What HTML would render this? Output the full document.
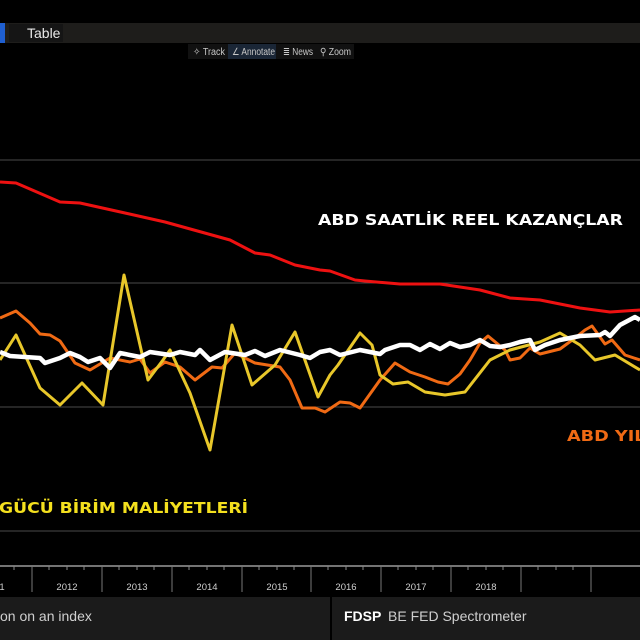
<!DOCTYPE html>
<html><head><meta charset="utf-8"><style>
html,body{margin:0;padding:0;background:#000;width:640px;height:640px;overflow:hidden}
</style></head><body>
<svg width="640" height="640" xmlns="http://www.w3.org/2000/svg" style="display:block;font-family:'Liberation Sans',sans-serif">
<rect width="640" height="640" fill="#000"/>
<rect x="0" y="23" width="640" height="20" fill="#1e1d1b"/>
<rect x="0" y="23" width="5" height="20" fill="#1f5fd0"/>
<rect x="9" y="24" width="54" height="18" fill="#151515"/>
<text x="27" y="38" fill="#e8e8e8" font-size="14">Table</text>
<rect x="188" y="44" width="166" height="15" fill="#111"/>
<rect x="228" y="44" width="48" height="15" fill="#1a2636"/>
<g font-size="10" fill="#c8c8c8">
<text x="193" y="55" textLength="32" lengthAdjust="spacingAndGlyphs">✧ Track</text>
<text x="232" y="55" textLength="43" lengthAdjust="spacingAndGlyphs">∠ Annotate</text>
<text x="283" y="55" textLength="30" lengthAdjust="spacingAndGlyphs">≣ News</text>
<text x="320" y="55" textLength="31" lengthAdjust="spacingAndGlyphs">⚲ Zoom</text>
</g>
<g stroke="#4a4a4a" stroke-width="1">
<line x1="0" y1="160" x2="640" y2="160"/>
<line x1="0" y1="283" x2="640" y2="283"/>
<line x1="0" y1="407" x2="640" y2="407"/>
<line x1="0" y1="531" x2="640" y2="531"/>
</g>
<line x1="0" y1="566" x2="640" y2="566" stroke="#9a9a9a" stroke-width="1.5"/>
<g stroke="#777" stroke-width="1">
<line x1="32" y1="566" x2="32" y2="592"/><line x1="102" y1="566" x2="102" y2="592"/>
<line x1="172" y1="566" x2="172" y2="592"/><line x1="242" y1="566" x2="242" y2="592"/>
<line x1="311" y1="566" x2="311" y2="592"/><line x1="381" y1="566" x2="381" y2="592"/>
<line x1="451" y1="566" x2="451" y2="592"/><line x1="521" y1="566" x2="521" y2="592"/>
<line x1="591" y1="566" x2="591" y2="592"/>
</g>
<g stroke="#888" stroke-width="1">
<line x1="49" y1="566" x2="49" y2="570"/><line x1="67" y1="566" x2="67" y2="570"/><line x1="84" y1="566" x2="84" y2="570"/>
<line x1="119" y1="566" x2="119" y2="570"/><line x1="137" y1="566" x2="137" y2="570"/><line x1="154" y1="566" x2="154" y2="570"/>
<line x1="189" y1="566" x2="189" y2="570"/><line x1="207" y1="566" x2="207" y2="570"/><line x1="224" y1="566" x2="224" y2="570"/>
<line x1="259" y1="566" x2="259" y2="570"/><line x1="277" y1="566" x2="277" y2="570"/><line x1="294" y1="566" x2="294" y2="570"/>
<line x1="328" y1="566" x2="328" y2="570"/><line x1="346" y1="566" x2="346" y2="570"/><line x1="363" y1="566" x2="363" y2="570"/>
<line x1="398" y1="566" x2="398" y2="570"/><line x1="416" y1="566" x2="416" y2="570"/><line x1="433" y1="566" x2="433" y2="570"/>
<line x1="468" y1="566" x2="468" y2="570"/><line x1="486" y1="566" x2="486" y2="570"/><line x1="503" y1="566" x2="503" y2="570"/>
<line x1="538" y1="566" x2="538" y2="570"/><line x1="556" y1="566" x2="556" y2="570"/><line x1="573" y1="566" x2="573" y2="570"/>
<line x1="14" y1="566" x2="14" y2="570"/>
</g>
<g font-size="9.5" fill="#cfcfcf" text-anchor="middle">
<text x="2" y="590">1</text>
<text x="67" y="590">2012</text><text x="137" y="590">2013</text><text x="207" y="590">2014</text>
<text x="277" y="590">2015</text><text x="346" y="590">2016</text><text x="416" y="590">2017</text>
<text x="486" y="590">2018</text>
</g>
<rect x="0" y="597" width="640" height="43" fill="#1b1b1b"/>
<line x1="331" y1="597" x2="331" y2="640" stroke="#000" stroke-width="2"/>
<text x="0" y="621" fill="#d0d0d0" font-size="14">on on an index</text>
<text x="344" y="621" fill="#fff" font-size="14" font-weight="bold">FDSP</text>
<text x="388" y="621" fill="#d0d0d0" font-size="14">BE FED Spectrometer</text>
<g fill="none" stroke-linejoin="round" stroke-width="3">
<polyline stroke="#ee1111" points="0,182 16,183 60,202 80,203 125,213 165,222 230,240 255,253 270,255 295,265 320,270 330,271 355,280 365,281 400,284 440,284 480,290 510,298 540,300 580,308 610,312 640,310"/>
<polyline stroke="#f06a14" points="0,318 16,311 30,323 40,334 50,335 60,341 75,363 90,370 110,358 130,362 140,359 150,373 165,362 180,367 195,380 212,367 222,368 235,353 255,363 280,367 290,380 302,408 315,408 325,412 340,402 350,403 360,408 380,380 395,363 410,372 425,377 438,382 448,384 460,374 470,360 480,343 488,336 505,350 510,360 520,358 530,348 540,354 560,349 575,338 585,330 592,326 605,344 612,340 625,355 640,360"/>
<polyline stroke="#e8c72a" points="0,360 16,335 40,388 60,405 82,383 103,405 124,275 148,380 163,360 170,350 190,393 210,450 232,325 252,385 275,365 295,332 318,397 330,375 338,365 360,333 372,345 380,375 393,384 408,382 425,392 445,395 465,392 490,360 510,350 540,342 560,333 580,345 595,360 615,355 640,370"/>
<polyline stroke="#ffffff" stroke-width="4.5" points="0,352 10,356 40,358 45,363 60,358 70,353 80,357 88,362 100,358 110,368 120,353 140,357 150,352 170,355 180,352 195,355 200,350 210,360 225,352 245,355 255,351 265,356 280,350 300,355 310,358 320,352 330,350 340,355 360,350 380,354 385,350 400,345 410,345 420,350 430,344 440,349 450,343 460,347 470,345 480,340 490,346 500,347 510,345 520,342 530,340 535,350 545,345 560,340 580,336 600,335 605,332 610,336 620,325 635,317 640,320"/>
</g>
<g font-family="'DejaVu Sans',sans-serif" font-weight="bold" font-size="15">
<text x="318" y="225" fill="#fff" textLength="305" lengthAdjust="spacingAndGlyphs">ABD SAATLİK REEL KAZANÇLAR</text>
<text x="567" y="441" fill="#f06a14" textLength="110" lengthAdjust="spacingAndGlyphs">ABD YILLIK</text>
<text x="-1" y="513" fill="#f4e01e" textLength="249" lengthAdjust="spacingAndGlyphs">GÜCÜ BİRİM MALİYETLERİ</text>
</g>
</svg>
</body></html>
